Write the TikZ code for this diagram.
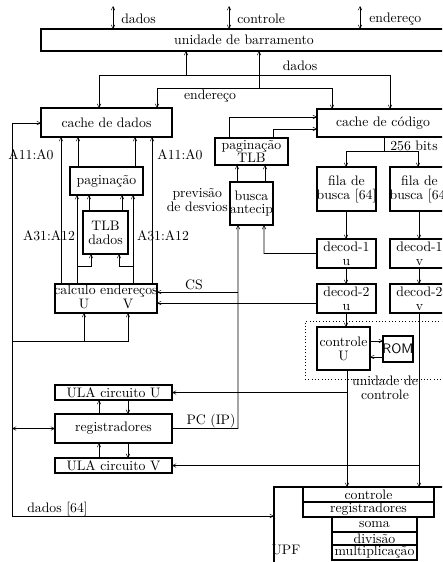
\documentclass[tikz,border=0pt]{standalone}
\usetikzlibrary{arrows.meta,fit}
\newcommand\mybox[6]{%
  \node[box, fit={(#2,#3) (#4,#5)}] (#1) {};
  \node[txt] (#1-t) at (#1.center) {#6};}
\begin{document}
\begin{tikzpicture}[x=0.727pt,y=-0.727pt,
  box/.style={draw, line width=0.85pt, inner sep=0pt, outer sep=0pt},
  txt/.style={inner sep=0pt, align=center, font=\fontsize{10}{10}\selectfont},
  lbl/.style={inner sep=0pt, align=center, font=\fontsize{10}{10}\selectfont},
  ln/.style={line width=0.4pt},
  arr/.style={ln, -{Straight Barb[length=2.6pt,width=2.6pt]}},
  darr/.style={ln, {Straight Barb[length=2.6pt,width=2.6pt]}-{Straight Barb[length=2.6pt,width=2.6pt]}}]
\clip (0,0) rectangle (442,562);
\fill[white] (0,0) rectangle (442,562);

% boxes
\mybox{bus}{41}{29}{447}{51}{unidade de barramento}
\mybox{cdados}{41}{108}{172}{137}{cache de dados}
\mybox{pag}{70}{167}{143}{195}{paginação}
\mybox{tlbd}{83}{211}{128}{254}{TLB\\dados}
\node[box, fit={(55,284) (157,313)}] (calc) {};
\node[lbl] (calc-t) at (106,291) {calculo endereços};
\node[lbl] (calc-u) at (84,304) {U};
\node[lbl] (calc-v) at (128,304) {V};
\mybox{ptlb}{215}{138}{288}{165}{paginação\\TLB}
\mybox{busca}{230}{182}{273}{225}{busca\\antecip}
\mybox{ccod}{317}{109}{449}{137}{cache de código}
\mybox{filau}{317}{167}{376}{211}{fila de\\busca [64]}
\mybox{filav}{390}{167}{449}{211}{fila de\\busca [64]}
\mybox{dau}{317}{239}{376}{268}{decod-1\\u}
\mybox{dav}{390}{239}{449}{268}{decod-1\\v}
\mybox{dbu}{317}{284}{376}{313}{decod-2\\u}
\mybox{dbv}{390}{284}{449}{313}{decod-2\\v}
\node[draw, dotted, ln, inner sep=0pt, fit={(305,321) (470,379)}] (uc) {};
\mybox{ctlu}{317}{327}{370}{370}{controle\\U}
\mybox{rom}{383}{336}{413}{362}{\sffamily ROM}
\mybox{ulau}{55}{385}{172}{400}{ULA circuito U}
\mybox{regs}{55}{414}{172}{443}{registradores}
\mybox{ulav}{55}{458}{172}{473}{ULA circuito V}
\node[box, fit={(274,487) (470,600)}] (upf) {};
\node[lbl] (upf-t) at (286,550) {UPF};
\mybox{fctl}{303}{487}{434}{502}{controle}
\mybox{freg}{303}{502}{434}{517}{registradores}
\mybox{fsoma}{332}{517}{417}{532}{soma}
\mybox{fdiv}{332}{532}{417}{545}{divisão}
\mybox{fmul}{332}{545}{417}{560}{multiplicação}

% top external bus
\coordinate (t1) at (113,6);
\coordinate (t2) at (229,6);
\coordinate (t3) at (360,6);
\draw[darr] (t1) -- (t1 |- bus.north);
\draw[darr] (t2) -- (t2 |- bus.north);
\draw[darr] (t3) -- (t3 |- bus.north);
\node[lbl, anchor=west] (l1) at (121,19) {dados};
\node[lbl, anchor=west] (l2) at (237,19) {controle};
\node[lbl, anchor=west] (l3) at (369,19) {endereço};

% internal bus
\coordinate (jd) at (186,75);
\coordinate (dl) at (99,75);
\coordinate (dr) at (390,75);
\coordinate (je) at (259,88);
\coordinate (el) at (157,88);
\coordinate (er) at (332,88);
\draw[ln] (dl) -- (dr);
\draw[ln] (el) -- (er);
\draw[arr] (jd) -- (jd |- bus.south);
\draw[arr] (je) -- (je |- bus.south);
\draw[arr] (dl) -- (dl |- cdados.north);
\draw[arr] (el) -- (el |- cdados.north);
\draw[arr] (dr) -- (dr |- ccod.north);
\draw[arr] (er) -- (er |- ccod.north);
\node[lbl] (ldados) at (300,66) {dados};
\node[lbl] (lend) at (210,96) {endereço};

% left loop
\coordinate (lt) at (12,123);
\coordinate (lb) at (12,516);
\draw[arr] (lb) -- (lt) -- (lt -| cdados.west);
\draw[arr] (lb) -- (lb -| upf.west);
\node[lbl, anchor=west] (l64) at (27,509) {dados [64]};
\coordinate (cb) at (12,341);
\coordinate (cbu) at (84,341);
\coordinate (cbv) at (128,341);
\draw[arr] (cb) -- (cbv) -- (cbv |- calc.south);
\draw[arr] (cbu) -- (cbu |- calc.south);
\coordinate (rl) at (12,428.5);
\draw[darr] (rl) -- (rl -| regs.west);

% data cache address paths
\draw[arr] (calc.north -| 61,0) -- (cdados.south -| 61,0);
\draw[arr] (calc.north -| 152,0) -- (cdados.south -| 152,0);
\draw[arr] (pag.north -| 78,0) -- (cdados.south -| 78,0);
\draw[arr] (pag.north -| 135,0) -- (cdados.south -| 135,0);
\draw[arr] (tlbd.north -| 89,0) -- (pag.south -| 89,0);
\draw[arr] (tlbd.north -| 122,0) -- (pag.south -| 122,0);
\draw[arr] (calc.north -| 77,0) -- (pag.south -| 77,0);
\draw[arr] (calc.north -| 133,0) -- (pag.south -| 133,0);
\coordinate (bl) at (77,266);
\coordinate (br) at (133,266);
\draw[arr] (bl) -- (bl -| 91,0) -- (tlbd.south -| 91,0);
\draw[arr] (br) -- (br -| 119,0) -- (tlbd.south -| 119,0);
\node[lbl] (a1) at (31,155) {A11:A0};
\node[lbl] (a2) at (180,155) {A11:A0};
\node[lbl] (a3) at (49,236) {A31:A12};
\node[lbl] (a4) at (163,236) {A31:A12};

% code side
\draw[arr] (busca.north -| 237,0) -- (ptlb.south -| 237,0);
\draw[arr] (busca.north -| 265,0) -- (ptlb.south -| 265,0);
\coordinate (p1) at (229,117);
\coordinate (p2) at (273,129);
\draw[arr] (ptlb.north -| p1) -- (p1) -- (p1 -| ccod.west);
\draw[arr] (ptlb.north -| p2) -- (p2) -- (p2 -| ccod.west);
\node[lbl, anchor=east] (prev) at (228,200) {previsão\\de desvios};
\coordinate (d1) at (264,253.5);
\draw[arr] (dau.west) -- (d1) -- (d1 |- busca.south);
\coordinate (pc) at (238,428.5);
\draw[arr] (regs.east) -- (pc) -- (pc |- busca.south);
\coordinate (cs) at (238,292);
\draw[arr] (cs) -- (cs -| calc.east);
\coordinate (d2) at (317,303);
\draw[arr] (d2) -- (d2 -| calc.east);
\node[lbl] (lcs) at (194,285) {CS};
\node[lbl] (lpc) at (211,421) {PC (IP)};

\coordinate (c256) at (384,151);
\coordinate (fl) at (346,151);
\coordinate (fr) at (418,151);
\draw[ln] (ccod.south -| c256) -- (c256);
\draw[arr] (fl) -- (fr) -- (fr |- filav.north);
\draw[arr] (fl) -- (fl |- filau.north);
\node[lbl, anchor=west] (l256) at (390,146) {256 bits};

\draw[arr] (filau.south -| 346,0) -- (dau.north -| 346,0);
\draw[arr] (filav.south -| 419,0) -- (dav.north -| 419,0);
\draw[arr] (dau.south -| 346,0) -- (dbu.north -| 346,0);
\draw[arr] (dav.south -| 419,0) -- (dbv.north -| 419,0);
\draw[arr] (dbu.south -| 346,0) -- (ctlu.north -| 346,0);
\draw[arr] (ctlu.east |- 0,341) -- (rom.west |- 0,341);
\draw[arr] (rom.west |- 0,357) -- (ctlu.east |- 0,357);
\node[lbl] (luc) at (385,388) {unidade de\\controle};

\coordinate (cu) at (347,392.5);
\coordinate (cv) at (419,465.5);
\draw[arr] (ctlu.south -| cu) -- (cu |- upf.north);
\draw[arr] (cu) -- (ulau.east);
\draw[arr] (dbv.south -| cv) -- (cv |- upf.north);
\draw[arr] (cv) -- (ulav.east);

% ALU / registers
\draw[arr] (regs.north -| 99,0) -- (ulau.south -| 99,0);
\draw[arr] (ulau.south -| 128,0) -- (regs.north -| 128,0);
\draw[arr] (ulav.north -| 99,0) -- (regs.south -| 99,0);
\draw[arr] (regs.south -| 128,0) -- (ulav.north -| 128,0);
\end{tikzpicture}
\end{document}
